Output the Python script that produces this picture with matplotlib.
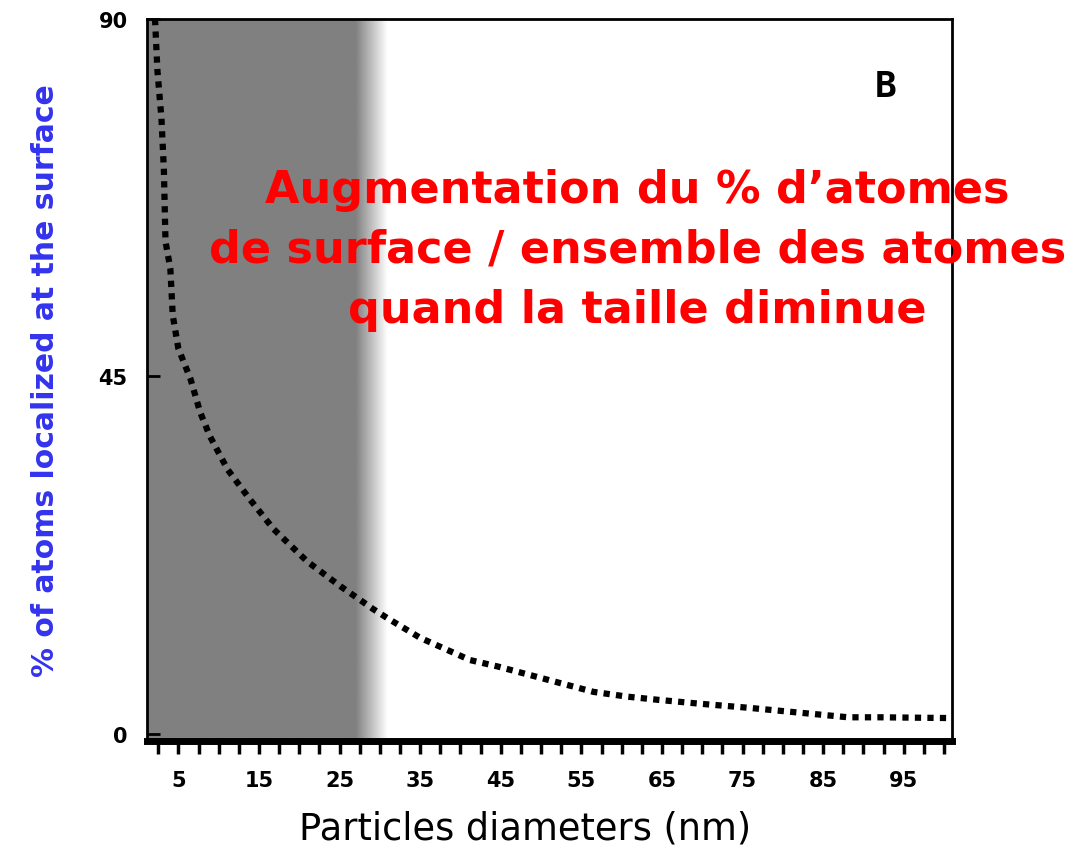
import numpy as np
import matplotlib
matplotlib.use("Agg")
import matplotlib.pyplot as plt
from matplotlib.ticker import MultipleLocator, FixedLocator

# values
diameters = [2.1, 2.4, 2.9, 3.2, 3.4, 4.0, 4.3, 5.0, 6.5, 7.7, 8.9, 11.1, 13.9,
             16.8, 21.0, 25.1, 29.2, 30.9, 35.0, 41.2, 44.6, 48.7, 52.4, 56.5,
             60.7, 64.5, 69.8, 75.7, 81.9, 88.1, 92.2, 101.0]
surface_pct = [90.0, 83.5, 77.5, 71.0, 62.0, 58.6, 52.7, 48.5, 44.7, 40.5, 37.5,
               33.3, 29.5, 25.8, 21.7, 18.6, 15.7, 14.6, 12.1, 9.3, 8.5, 7.4,
               6.4, 5.3, 4.7, 4.3, 3.8, 3.3, 2.7, 2.1, 2.1, 2.0]

x_labels = ["5", "15", "25", "35", "45", "55", "65", "75", "85", "95"]
x_label_pos = [5, 15, 25, 35, 45, 55, 65, 75, 85, 95]
y_ticks = [0, 45, 90]

# shaded zone (nano range) : solid grey then fading out
shade_solid_end = 27
shade_fade_end = 31

annotation = "Augmentation du % d\u2019atomes\nde surface / ensemble des atomes\nquand la taille diminue"

fig = plt.figure(figsize=(10.75, 8.54), dpi=100)
ax = fig.add_axes([0.1367, 0.131, 0.749, 0.8456])

xmin, xmax = 1.1, 101
ymin, ymax = -0.9, 90

# grey gradient background
grad_x = np.linspace(xmin, shade_fade_end, 400)
shade = np.clip((grad_x - shade_solid_end) / (shade_fade_end - shade_solid_end), 0, 1)
grey = 0.5 + 0.5 * shade
img = np.tile(grey, (2, 1))
ax.imshow(img, extent=[xmin, shade_fade_end, ymin, ymax], cmap="gray",
          vmin=0, vmax=1, aspect="auto", interpolation="bilinear", zorder=0)

# the curve
ax.plot(diameters, surface_pct, color="black", linewidth=4.5,
        linestyle=(0, (1, 1)), solid_capstyle="butt", zorder=3, clip_on=False)

ax.set_xlim(xmin, xmax)
ax.set_ylim(ymin, ymax)

# spines
for s in ["left", "top", "right"]:
    ax.spines[s].set_linewidth(2)
ax.spines["bottom"].set_linewidth(5)

# ticks
ax.xaxis.set_major_locator(FixedLocator(x_label_pos))
ax.set_xticklabels(x_labels)
ax.xaxis.set_minor_locator(MultipleLocator(2.5))
ax.tick_params(axis="x", which="both", direction="out", length=9, width=2.5,
               labelsize=15, pad=12)
for lab in ax.get_xticklabels():
    lab.set_fontweight("bold")

ax.set_yticks(y_ticks)
ax.tick_params(axis="y", direction="in", length=9, width=2, labelsize=15, pad=14)
for lab in ax.get_yticklabels():
    lab.set_fontweight("bold")

ax.set_xlabel("Particles diameters (nm)", fontsize=26.5)
ax.xaxis.set_label_coords(0.47, -0.094)
ax.set_ylabel("% of atoms localized at the surface", fontsize=21.5,
              fontweight="bold", color="#3333ee")
ax.yaxis.set_label_coords(-0.108, 0.5)

# panel letter
ax.text(0.917, 0.907, "B", transform=ax.transAxes, fontsize=26, fontweight="bold",
        ha="center", va="center", family="DejaVu Sans Mono")

# red annotation
fig.text(0.593, 0.707, annotation, color="#ff0000", fontsize=32,
         fontweight="bold", ha="center", va="center", linespacing=1.5,
         family="DejaVu Sans")

fig.savefig("out.png", dpi=100)
